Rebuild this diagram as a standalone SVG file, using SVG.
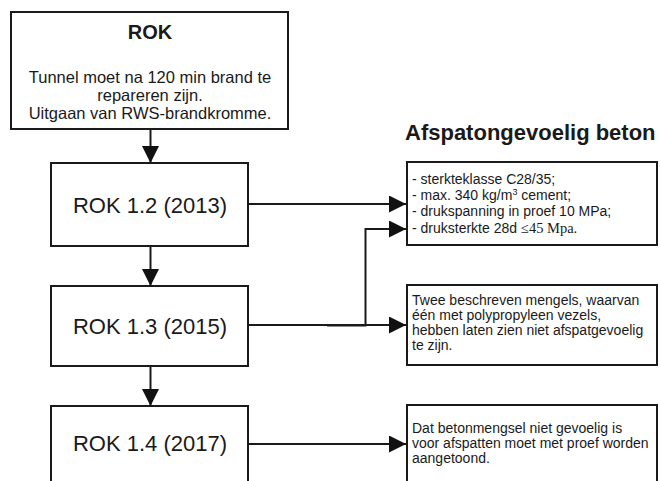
<svg xmlns="http://www.w3.org/2000/svg" width="661" height="481" viewBox="0 0 661 481">
  <style>
    .box { fill: #fff; stroke: #1a1a1a; stroke-width: 2; }
    .line { fill: none; stroke: #1a1a1a; stroke-width: 2; }
    text { font-family: "Liberation Sans", Arial, sans-serif; fill: #1a1a1a; }
    .title { font-size: 20px; font-weight: bold; text-anchor: middle; }
    .body { font-size: 16.5px; text-anchor: middle; }
    .rok { font-size: 22px; text-anchor: middle; }
    .note { font-size: 14px; }
    .head { font-size: 22px; font-weight: bold; }
  </style>
  <defs>
    <marker id="arrow" viewBox="0 0 17 17" refX="17" refY="8.5" markerWidth="17" markerHeight="17" markerUnits="userSpaceOnUse" orient="auto">
      <path d="M0,0 L17,8.5 L0,17 Z" fill="#111"/>
    </marker>
  </defs>
  <rect width="661" height="481" fill="#fff"/>

  <g id="connectors">
    <line class="line" x1="150.5" y1="129" x2="150.5" y2="163" marker-end="url(#arrow)"/>
    <line class="line" x1="150.5" y1="246" x2="150.5" y2="286" marker-end="url(#arrow)"/>
    <line class="line" x1="150.5" y1="366" x2="150.5" y2="406" marker-end="url(#arrow)"/>
    <line class="line" x1="248" y1="204" x2="406" y2="204" marker-end="url(#arrow)"/>
    <line class="line" x1="248" y1="325" x2="406" y2="325" marker-end="url(#arrow)"/>
    <path class="line" d="M327,325.5 H365.5 V229 H406" marker-end="url(#arrow)"/>
    <line class="line" x1="248" y1="444" x2="406" y2="444" marker-end="url(#arrow)"/>
  </g>

  <g id="rok">
    <rect class="box" x="11" y="12" width="277" height="117"/>
    <text class="title" x="150" y="39">ROK</text>
    <text class="body" x="150" y="83">Tunnel moet na 120 min brand te</text>
    <text class="body" x="150" y="101">repareren zijn.</text>
    <text class="body" x="150" y="119">Uitgaan van RWS-brandkromme.</text>
  </g>

  <g id="rok-1-2">
    <rect class="box" x="51" y="163" width="197" height="83"/>
    <text class="rok" x="150" y="213">ROK 1.2 (2013)</text>
  </g>

  <g id="rok-1-3">
    <rect class="box" x="51" y="286" width="197" height="80"/>
    <text class="rok" x="150" y="334">ROK 1.3 (2015)</text>
  </g>

  <g id="rok-1-4">
    <rect class="box" x="51" y="406" width="197" height="90"/>
    <text class="rok" x="150" y="451">ROK 1.4 (2017)</text>
  </g>

  <g id="afspat-title">
    <text class="head" x="405" y="140">Afspatongevoelig beton</text>
  </g>

  <g id="eisen">
    <rect class="box" x="407" y="162" width="250" height="83"/>
    <text class="note" x="412" y="184">- sterkteklasse C28/35;</text>
    <text class="note" x="412" y="200">- max. 340 kg/m<tspan font-size="9" dy="-5">3</tspan><tspan dy="5"> cement;</tspan></text>
    <text class="note" x="412" y="216">- drukspanning in proef 10 MPa;</text>
    <text class="note" x="412" y="233">- druksterkte 28d <tspan font-family="'Liberation Serif', serif" font-size="14.5">≤45 Mpa.</tspan></text>
  </g>

  <g id="mengsels">
    <rect class="box" x="407" y="285" width="250" height="80"/>
    <text class="note" x="412" y="305">Twee beschreven mengels, waarvan</text>
    <text class="note" x="412" y="320">één met polypropyleen vezels,</text>
    <text class="note" x="412" y="335">hebben laten zien niet afspatgevoelig</text>
    <text class="note" x="412" y="350">te zijn.</text>
  </g>

  <g id="proef">
    <rect class="box" x="407" y="405" width="250" height="90"/>
    <text class="note" x="412" y="433">Dat betonmengsel niet gevoelig is</text>
    <text class="note" x="412" y="448">voor afspatten moet met proef worden</text>
    <text class="note" x="412" y="463">aangetoond.</text>
  </g>
</svg>
